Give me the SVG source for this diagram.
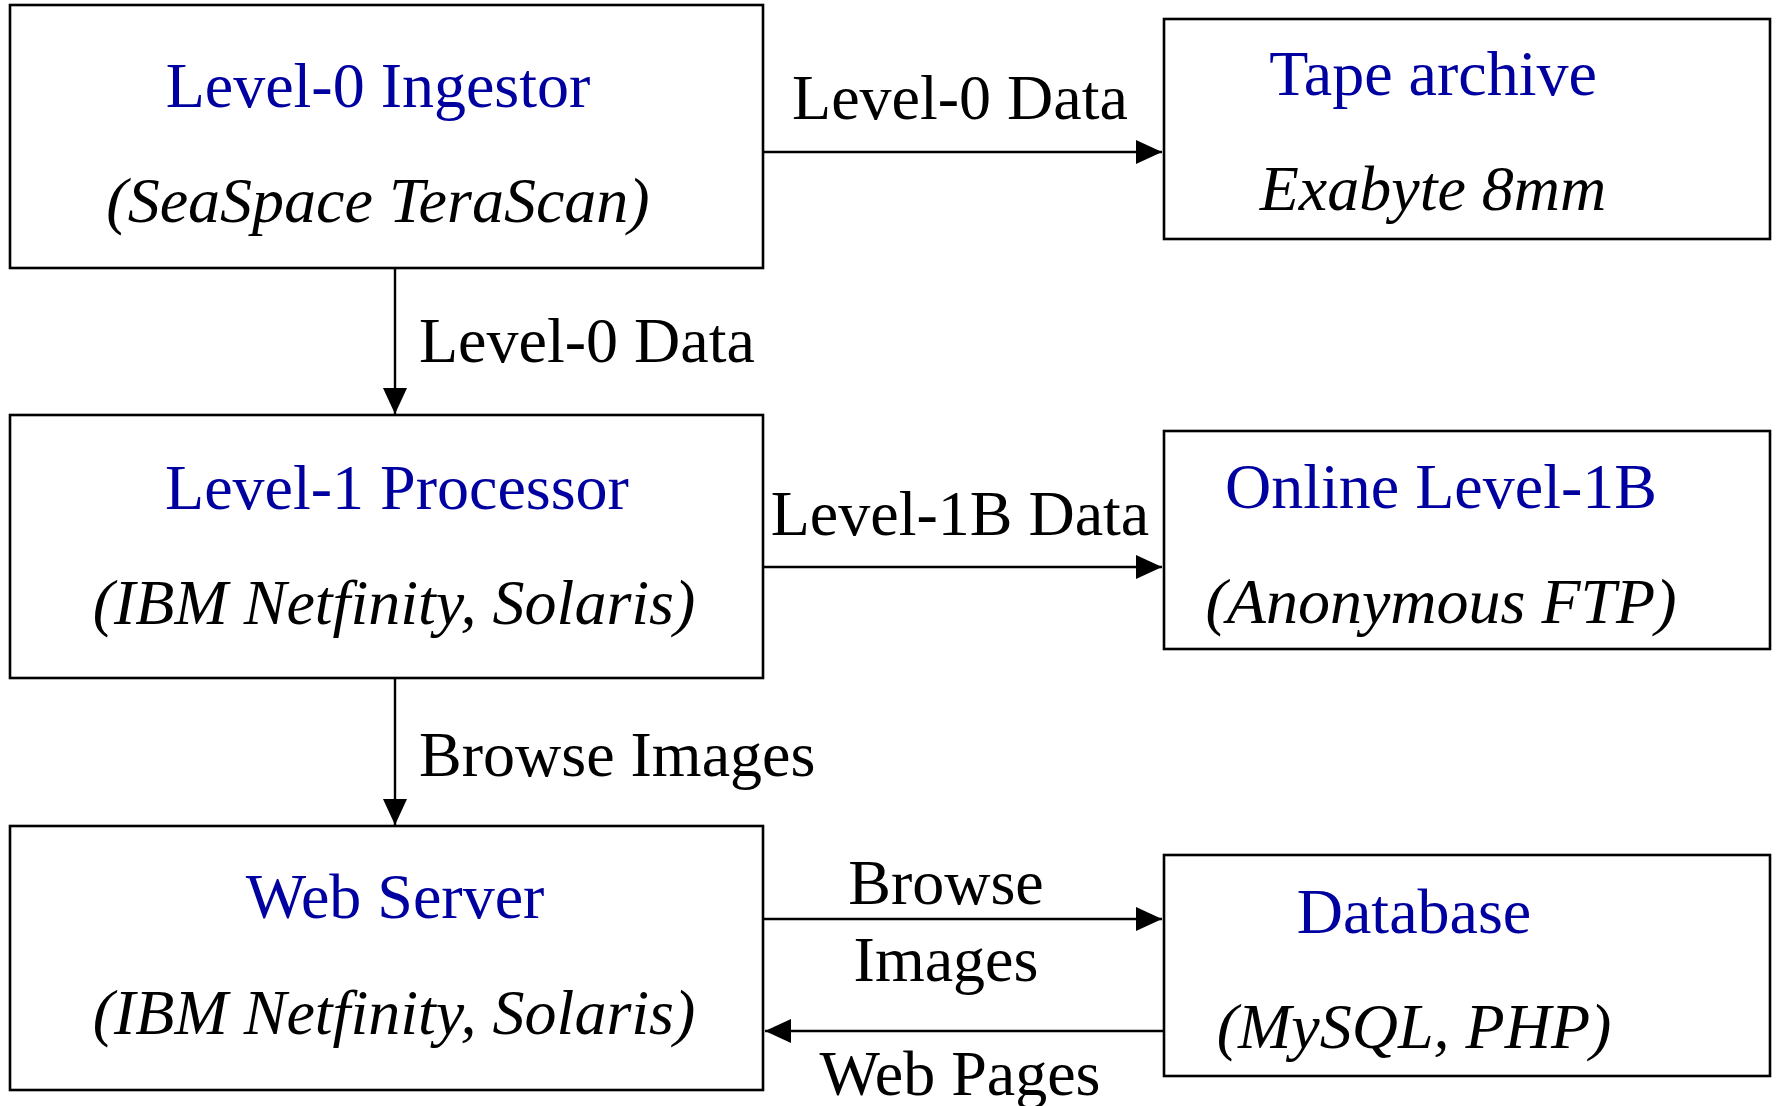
<svg xmlns="http://www.w3.org/2000/svg" width="1777" height="1106" viewBox="0 0 1777 1106">
<style>
.box{fill:#fff;stroke:#000;stroke-width:2.6}
.t{font-family:"Liberation Serif","Times New Roman",serif;font-size:64px;text-anchor:middle}
.title{fill:#0000a0}
.sub{fill:#000;font-style:italic}
.lbl{font-family:"Liberation Serif","Times New Roman",serif;font-size:64px;fill:#000}
.c{stroke:#000;stroke-width:2.4;fill:none}
</style>
<defs>
<marker id="ah" markerUnits="userSpaceOnUse" markerWidth="26" markerHeight="24" refX="26" refY="12" orient="auto">
<path d="M0,0 L26,12 L0,24 z" fill="#000"/>
</marker>
</defs>
<rect width="1777" height="1106" fill="#fff"/>
<g id="ingestor">
<rect class="box" x="10" y="5" width="753" height="263"/>
<text class="t title" x="378" y="107">Level-0 Ingestor</text>
<text class="t sub" x="378" y="222">(SeaSpace TeraScan)</text>
</g>
<g id="tape">
<rect class="box" x="1164" y="19" width="606" height="220"/>
<text class="t title" x="1433" y="95">Tape archive</text>
<text class="t sub" x="1433" y="210">Exabyte 8mm</text>
</g>
<g id="processor">
<rect class="box" x="10" y="415" width="753" height="263"/>
<text class="t title" x="397" y="509">Level-1 Processor</text>
<text class="t sub" x="394" y="624">(IBM Netfinity, Solaris)</text>
</g>
<g id="online">
<rect class="box" x="1164" y="431" width="606" height="218"/>
<text class="t title" x="1441" y="508">Online Level-1B</text>
<text class="t sub" x="1441" y="623">(Anonymous FTP)</text>
</g>
<g id="webserver">
<rect class="box" x="10" y="826" width="753" height="264"/>
<text class="t title" x="395" y="918">Web Server</text>
<text class="t sub" x="394" y="1034">(IBM Netfinity, Solaris)</text>
</g>
<g id="database">
<rect class="box" x="1164" y="855" width="606" height="221"/>
<text class="t title" x="1414" y="933">Database</text>
<text class="t sub" x="1414" y="1048">(MySQL, PHP)</text>
</g>
<g id="connectors">
<line class="c" x1="763" y1="152" x2="1162" y2="152" marker-end="url(#ah)"/>
<line class="c" x1="395" y1="268" x2="395" y2="414" marker-end="url(#ah)"/>
<line class="c" x1="763" y1="567" x2="1162" y2="567" marker-end="url(#ah)"/>
<line class="c" x1="395" y1="678" x2="395" y2="825" marker-end="url(#ah)"/>
<line class="c" x1="763" y1="919" x2="1162" y2="919" marker-end="url(#ah)"/>
<line class="c" x1="1164" y1="1031" x2="765" y2="1031" marker-end="url(#ah)"/>
<text class="lbl" x="960" y="119" text-anchor="middle">Level-0 Data</text>
<text class="lbl" x="419" y="362">Level-0 Data</text>
<text class="lbl" x="960" y="535" text-anchor="middle">Level-1B Data</text>
<text class="lbl" x="419" y="776">Browse Images</text>
<text class="lbl" x="946" y="904" text-anchor="middle">Browse</text>
<text class="lbl" x="946" y="981" text-anchor="middle">Images</text>
<text class="lbl" x="960" y="1095" text-anchor="middle">Web Pages</text>
</g>
</svg>
